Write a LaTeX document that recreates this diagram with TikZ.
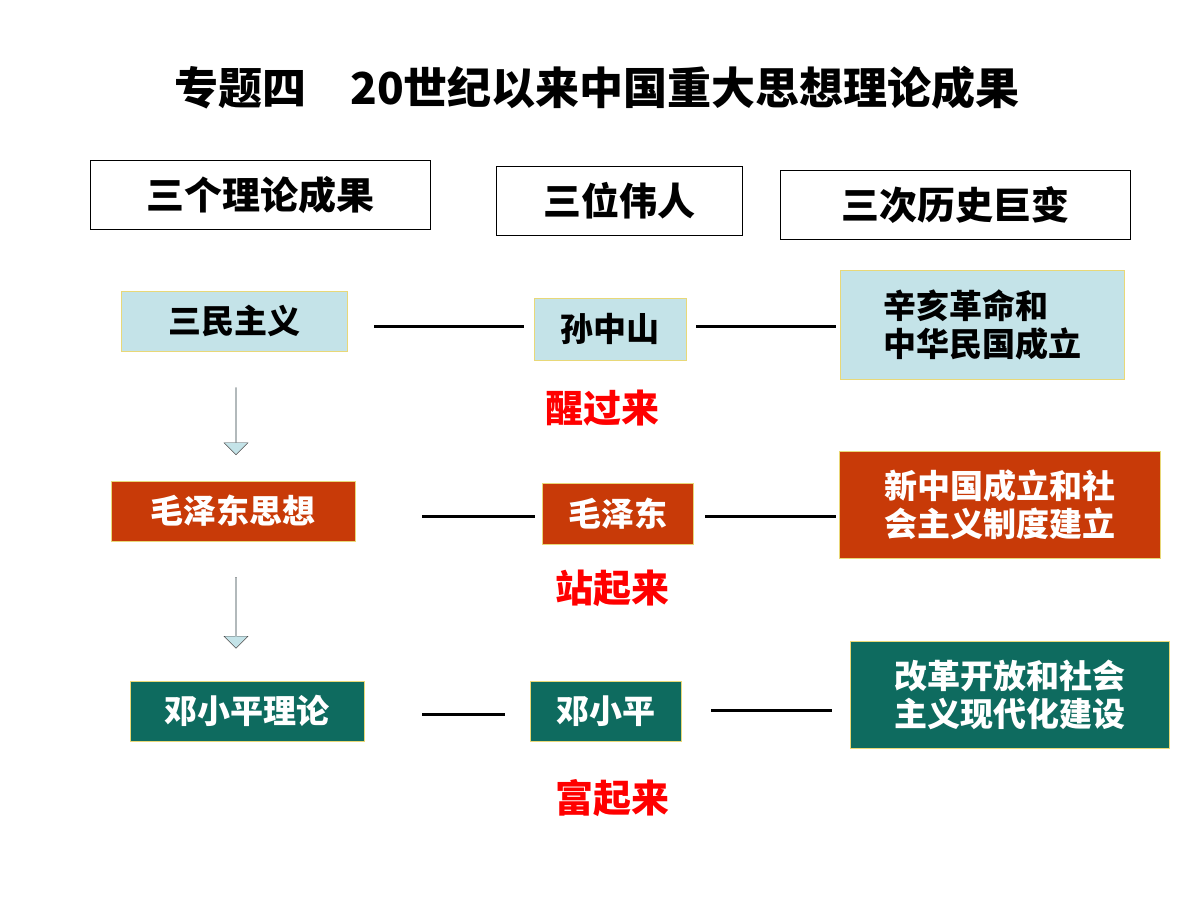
\documentclass[tikz,border=0pt]{standalone}
\usepackage{fontspec}
\setmainfont{Noto Sans CJK SC}
\usetikzlibrary{shapes.arrows}
\definecolor{lb}{HTML}{C4E3E8}
\definecolor{rd}{HTML}{C83A08}
\definecolor{tl}{HTML}{0E6B5F}
\definecolor{bd}{HTML}{E8D878}
\begin{document}
\begin{tikzpicture}[x=1pt,y=-1pt,
 hdr/.style={draw=black,line width=1pt,fill=white,font=\fontsize{38}{44}\selectfont\bfseries},
 bx/.style={draw=bd,line width=1pt,font=\fontsize{33}{44}\selectfont\bfseries,align=left},
 lb1/.style={bx,fill=lb,text=black},
 rd1/.style={bx,fill=rd,text=white},
 tl1/.style={bx,fill=tl,text=white},
 ln/.style={line width=3pt},
 lab/.style={text=red,font=\fontsize{38}{44}\selectfont\bfseries},
 dar/.style={draw=black!70,fill=lb,single arrow,shape border rotate=270,single arrow head extend=5pt,minimum width=24pt,single arrow tip angle=90,inner sep=0pt}]
\useasboundingbox (0,0) rectangle (1200,900);
\node[font=\fontsize{44}{50}\selectfont\bfseries] (t) at (597,88) {专题四\hspace{1em}20世纪以来中国重大思想理论成果};
\node[hdr,minimum width=340pt,minimum height=69pt] (h1) at (260,195) {三个理论成果};
\node[hdr,minimum width=246pt,minimum height=69pt] (h2) at (619,201) {三位伟人};
\node[hdr,minimum width=350pt,minimum height=69pt] (h3) at (955,205) {三次历史巨变};
% row1
\node[lb1,minimum width=226pt,minimum height=60pt,align=center] (a1) at (234,321) {三民主义};
\node[lb1,minimum width=152pt,minimum height=62pt,align=center] (b1) at (610,329) {孙中山};
\node[lb1,minimum width=284pt,minimum height=109pt,inner sep=8pt] (c1) at (982,324.5) {辛亥革命和\\[-6pt]中华民国成立};
\coordinate (l1a) at (374,326); \coordinate (l1b) at (524,326);
\coordinate (l1c) at (696,326); \coordinate (l1d) at (836,326);
\draw[ln] (l1a)--(l1b); \draw[ln] (l1c)--(l1d);
\node[lab] (w1) at (602,408) {醒过来};
\node[dar,minimum height=67pt] (ar1) at (236,421) {};
% row2
\node[rd1,minimum width=244pt,minimum height=60pt,align=center] (a2) at (233,511) {毛泽东思想};
\node[rd1,minimum width=151pt,minimum height=61pt,align=center] (b2) at (618,513.5) {毛泽东};
\node[rd1,minimum width=321pt,minimum height=107pt,inner sep=8pt] (c2) at (1000,504.5) {新中国成立和社\\[-6pt]会主义制度建立};
\coordinate (l2a) at (422,516); \coordinate (l2b) at (535,516);
\coordinate (l2c) at (705,516); \coordinate (l2d) at (836,516);
\draw[ln] (l2a)--(l2b); \draw[ln] (l2c)--(l2d);
\node[lab] (w2) at (612,588) {站起来};
\node[dar,minimum height=71pt] (ar2) at (236,612.5) {};
% row3
\node[tl1,minimum width=234pt,minimum height=60pt,align=center] (a3) at (247,711) {邓小平理论};
\node[tl1,minimum width=151pt,minimum height=60pt,align=center] (b3) at (605.5,711) {邓小平};
\node[tl1,minimum width=319pt,minimum height=107pt,inner sep=8pt] (c3) at (1010,694.5) {改革开放和社会\\[-6pt]主义现代化建设};
\coordinate (l3a) at (422,714); \coordinate (l3b) at (505,714);
\coordinate (l3c) at (711,710); \coordinate (l3d) at (832,710);
\draw[ln] (l3a)--(l3b); \draw[ln] (l3c)--(l3d);
\node[lab] (w3) at (612,798) {富起来};
\end{tikzpicture}
\end{document}
